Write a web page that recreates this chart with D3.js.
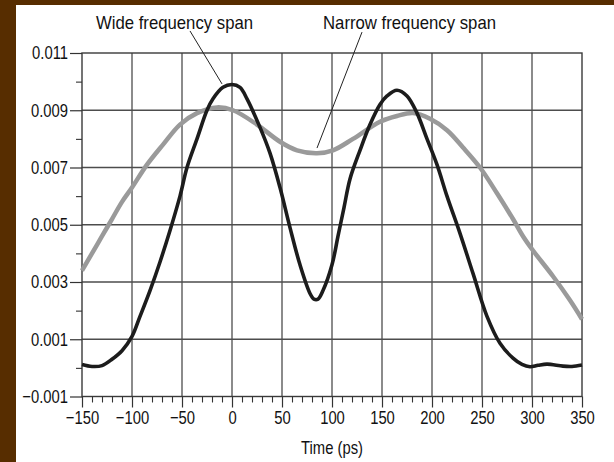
<!DOCTYPE html>
<html><head><meta charset="utf-8">
<script src="https://cdn.jsdelivr.net/npm/d3@7"></script>
<style>
html,body{margin:0;padding:0;background:#572d00;}
svg{display:block;}
text{font-family:"Liberation Sans",Arial,sans-serif;fill:#111;}
</style></head>
<body>
<svg id="c" width="614" height="462"></svg>
<script>
// ---- data ----
const wideT = [-150,-140,-130,-120,-110,-100,-92,-82,-72,-62,-52,-45,-35,-25,-19,-9,0,8,15,28,38,48,58,68,78,82,86,91,100,106,112,118,128,138,148,155,165,175,185,195,205,215,228,241,255,268,281,290,298,306,315,331,340,350];
const wideV = [0.00012,0.00005,0.00008,0.0003,0.0006,0.0011,0.0018,0.0027,0.0037,0.0048,0.0060,0.0070,0.0080,0.0090,0.0094,0.0098,0.0099,0.0098,0.0094,0.0084,0.0075,0.0063,0.0049,0.0036,0.0026,0.0024,0.0024,0.0027,0.0036,0.0046,0.0056,0.0066,0.0076,0.0085,0.0092,0.0095,0.0097,0.0095,0.0089,0.0080,0.0071,0.0060,0.0047,0.0033,0.0018,0.00086,0.00034,0.00012,0.00004,0.00009,0.00013,0.00006,0.00005,0.0001];
const narrowT = [-150,-140,-130,-120,-110,-100,-85,-69,-52,-35,-15,1,25,48,65,85,101,121,148,165,181,198,215,231,248,265,281,291,301,321,338,350];
const narrowV = [0.0034,0.0040,0.0046,0.0052,0.0058,0.0063,0.0071,0.0078,0.0085,0.0089,0.0091,0.0090,0.0085,0.0079,0.0076,0.0075,0.0076,0.0080,0.0086,0.0088,0.0089,0.0087,0.0083,0.0077,0.0070,0.0061,0.0052,0.0046,0.0041,0.0032,0.00236,0.0017];
const xTicks = [-150,-100,-50,0,50,100,150,200,250,300,350];
const yTicks = [-0.001,0.001,0.003,0.005,0.007,0.009,0.011];
const yTickLabels = ["\u22120.001","0.001","0.003","0.005","0.007","0.009","0.011"];
const xLabel = "Time (ps)";
const annLabels = ["Wide frequency span","Narrow frequency span"];
const annText = [[-57.5,0.01184],[177.5,0.01184]];   // text anchor (data units)
const annFrom = [[-42,0.01177],[130,0.01173]];
const annTo   = [[-10,0.00992],[85,0.00768]];

// ---- layout ----
const svg = d3.select("#c");
const L=82, R=582, T=53, B=396.5;
const SX=0.8;
svg.append("rect").attr("x",16).attr("y",5).attr("width",598).attr("height",457).attr("fill","#fff");
const x = d3.scaleLinear().domain([-150,350]).range([L,R]);
const y = d3.scaleLinear().domain([-0.001,0.011]).range([B,T]);

const gridC="#4d4d4d";
// grid
svg.append("g").selectAll("line").data(xTicks.slice(1,-1)).join("line")
  .attr("x1",d=>x(d)).attr("x2",d=>x(d)).attr("y1",T).attr("y2",B)
  .attr("stroke",gridC).attr("stroke-width",1.3);
svg.append("g").selectAll("line").data(yTicks.slice(1,-1)).join("line")
  .attr("x1",L).attr("x2",R).attr("y1",d=>y(d)).attr("y2",d=>y(d))
  .attr("stroke",gridC).attr("stroke-width",1.3);
// border
svg.append("rect").attr("x",L).attr("y",T).attr("width",R-L).attr("height",B-T)
  .attr("fill","none").attr("stroke","#3a3a3a").attr("stroke-width",1.4);

// axes
const xAxis = d3.axisBottom(x).tickValues(xTicks).tickSize(11).tickPadding(3)
  .tickFormat(d=>d<0?"\u2212"+Math.abs(d):String(d));
const gx = svg.append("g").attr("transform",`translate(0,${B})`).call(xAxis);
gx.select(".domain").remove();
gx.selectAll("line").attr("stroke","#333").attr("stroke-width",1.2);
gx.selectAll("text").attr("font-size",18.5).attr("fill","#111")
  .attr("font-family",'"Liberation Sans",Arial,sans-serif')
  .attr("transform",`scale(${SX},1)`);
const xMinor = d3.range(-140,350,10).filter(v=>v%50!==0);
const gxm = svg.append("g").attr("transform",`translate(0,${B})`)
  .call(d3.axisBottom(x).tickValues(xMinor).tickSize(6).tickFormat(""));
gxm.select(".domain").remove();
gxm.selectAll("line").attr("stroke","#333").attr("stroke-width",1.1);

const yAxis = d3.axisLeft(y).tickValues(yTicks).tickSize(12).tickPadding(2)
  .tickFormat((d,i)=>yTickLabels[i]);
const gy = svg.append("g").attr("transform",`translate(${L},0)`).call(yAxis);
gy.select(".domain").remove();
gy.selectAll("line").attr("stroke","#333").attr("stroke-width",1.2);
gy.selectAll("text").attr("font-size",18.5).attr("fill","#111")
  .attr("font-family",'"Liberation Sans",Arial,sans-serif')
  .attr("x",-14/SX).attr("transform",`scale(${SX},1)`);
const yMinor = [0.000,0.002,0.004,0.006,0.008,0.010];
const gym = svg.append("g").attr("transform",`translate(${L},0)`)
  .call(d3.axisLeft(y).tickValues(yMinor).tickSize(6).tickFormat(""));
gym.select(".domain").remove();
gym.selectAll("line").attr("stroke","#333").attr("stroke-width",1.1);

// curves
const line = d3.line().x(d=>x(d[0])).y(d=>y(d[1])).curve(d3.curveCatmullRom.alpha(0.5));
svg.append("path").datum(narrowT.map((t,i)=>[t,narrowV[i]]))
  .attr("d",line).attr("fill","none").attr("stroke","#9a9a9a").attr("stroke-width",4.5);
svg.append("path").datum(wideT.map((t,i)=>[t,wideV[i]]))
  .attr("d",line).attr("fill","none").attr("stroke","#1c1c1c").attr("stroke-width",3.6);

// annotations
annLabels.forEach((s,i)=>{
  svg.append("line").attr("x1",x(annFrom[i][0])).attr("y1",y(annFrom[i][1]))
    .attr("x2",x(annTo[i][0])).attr("y2",y(annTo[i][1])).attr("stroke","#222").attr("stroke-width",1);
  svg.append("text").attr("transform",`translate(${x(annText[i][0])},${y(annText[i][1])}) scale(0.93,1)`)
    .attr("text-anchor","middle").attr("font-size",18).text(s);
});
svg.append("text").attr("transform",`translate(${(L+R)/2},454) scale(${SX},1)`)
  .attr("text-anchor","middle").attr("font-size",18.5).text(xLabel);
</script>
</body></html>
